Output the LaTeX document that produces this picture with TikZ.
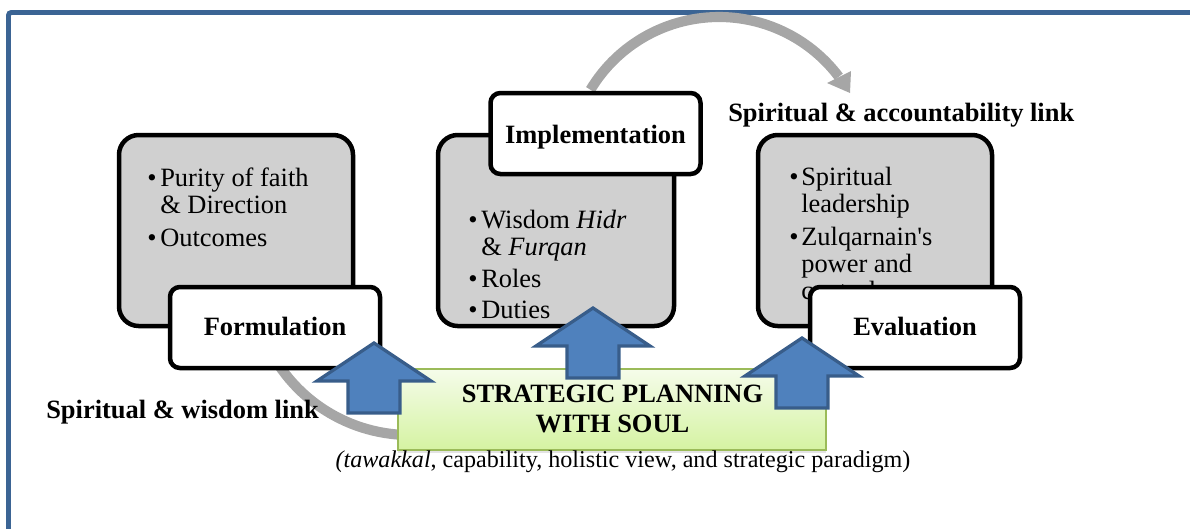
\documentclass[tikz,border=0pt]{standalone}
\usepackage{fontspec}
\setmainfont{Liberation Serif}
\usetikzlibrary{shadows}

\definecolor{framebl}{HTML}{3B6494}
\definecolor{boxgray}{HTML}{D0D0D0}
\definecolor{linkgray}{HTML}{A6A6A6}
\definecolor{arrowfill}{HTML}{4F81BD}
\definecolor{arrowline}{HTML}{385D8A}
\definecolor{greenline}{HTML}{9BBB59}
\definecolor{greentop}{HTML}{F5FCEA}
\definecolor{greenbot}{HTML}{D5F3A2}

\def\px{0.025cm}
\newcommand{\bodysize}{\fontsize{18.8}{22}\selectfont}

\tikzset{
  stagebg/.style={draw=black, fill=boxgray, line width=3.2pt, rounded corners=14pt,
    inner sep=0, minimum height=191*\px},
  stagetitle/.style={draw=black, fill=white, line width=3.2pt, rounded corners=7pt,
    inner sep=0, minimum width=210*\px, minimum height=81*\px},
  titlelabel/.style={anchor=base, inner sep=0, font=\bfseries\bodysize},
  linklabel/.style={anchor=base west, inner sep=0, font=\bfseries\bodysize},
  itemtext/.style={anchor=base west, inner sep=0, font=\bodysize},
  itembullet/.style={anchor=base east, inner sep=0, font=\bodysize},
  linkband/.style={draw=linkgray, line width=7.2pt},
  linkhead/.style={fill=linkgray},
  blockarrow/.style={fill=arrowfill, draw=arrowline, line width=2.3pt, line join=miter},
  greenbox/.style={draw=greenline, line width=1.5pt, top color=greentop, bottom color=greenbot,
    minimum width=428*\px, minimum height=81*\px, inner sep=0,
    drop shadow={opacity=0.22, shadow xshift=0pt, shadow yshift=-2pt}},
  upblock/.pic={
    \draw[blockarrow] (0,0) -- (57,38) -- (26,38) -- (26,70) -- (-26,70)
      -- (-26,38) -- (-57,38) -- cycle;
  }
}

\begin{document}
\begin{tikzpicture}[x=0.025cm, y=-0.025cm]
  \useasboundingbox (0,0) rectangle (1190,528);
  \clip (0,0) rectangle (1190,528);

  % outer frame
  \draw[framebl, line width=3.5pt, rounded corners=2pt] (8.5,12.5) rectangle (1230,570);

  % curved links (behind the stage boxes)
  \coordinate (toparc) at (719,167);
  \draw[linkband] (toparc) ++(211:150) arc[start angle=211, end angle=323, radius=150];
  \fill[linkhead] (827,83) -- (851,71) -- (850,93) -- cycle;

  \coordinate (botarc) at (410,277);
  \draw[linkband] (botarc) ++(155:158) arc[start angle=155, end angle=86, radius=158];

  % stage content boxes
  \node[stagebg, minimum width=234*\px] (formbg) at (236,230.5) {};
  \node[stagebg, minimum width=236*\px] (implbg) at (556,230.5) {};
  \node[stagebg, minimum width=234*\px] (evalbg) at (875,230.5) {};

  % formulation items
  \node[itembullet] (fb1) at (157,186) {\textbullet};
  \node[itemtext] (ft1) at (160,186) {Purity of faith};
  \node[itemtext] (ft1b) at (160,213) {\& Direction};
  \node[itembullet] (fb2) at (157,246) {\textbullet};
  \node[itemtext] (ft2) at (160,246) {Outcomes};

  % implementation items
  \node[itembullet] (ib1) at (478,228) {\textbullet};
  \node[itemtext] (it1) at (481,228) {Wisdom \textit{Hidr}};
  \node[itemtext] (it1b) at (481,255) {\& \textit{Furqan}};
  \node[itembullet] (ib2) at (478,287) {\textbullet};
  \node[itemtext] (it2) at (481,287) {Roles};
  \node[itembullet] (ib3) at (478,318) {\textbullet};
  \node[itemtext] (it3) at (481,318) {Duties};

  % evaluation items
  \node[itembullet] (eb1) at (799,185) {\textbullet};
  \node[itemtext] (et1) at (801,185) {Spiritual};
  \node[itemtext] (et1b) at (801,212) {leadership};
  \node[itembullet] (eb2) at (799,245) {\textbullet};
  \node[itemtext] (et2) at (801,245) {Zulqarnain\textquotesingle s};
  \node[itemtext] (et2b) at (801,272) {power and};
  \node[itemtext] (et2c) at (801,299) {control};

  % stage title boxes
  \node[stagetitle] (form) at (275,327.5) {};
  \node[stagetitle] (impl) at (595.5,133.5) {};
  \node[stagetitle] (eval) at (915,327.5) {};
  \node[titlelabel] (formtxt) at (275,335) {Formulation};
  \node[titlelabel] (impltxt) at (595.5,143) {Implementation};
  \node[titlelabel] (evaltxt) at (915,335) {Evaluation};

  % central box
  \node[greenbox] (core) at (612,409.5) {};
  \node[titlelabel] (coretxt1) at (612.5,402) {STRATEGIC PLANNING};
  \node[titlelabel] (coretxt2) at (612.5,432) {WITH SOUL};
  \node[anchor=base, inner sep=0, font=\fontsize{17.15}{20}\selectfont] (corenote) at (623,467)
    {\textit{(tawakkal}, capability, holistic view, and strategic paradigm)};

  % block arrows from the core to each stage
  \pic (upform) at (374,343) {upblock};
  \pic (upimpl) at (593,308) {upblock};
  \pic (upeval) at (802,338) {upblock};

  % link labels
  \node[linklabel] (wisdomlink) at (46,418) {Spiritual \& wisdom link};
  \node[linklabel] (acclink) at (728,121) {Spiritual \& accountability link};
\end{tikzpicture}
\end{document}
